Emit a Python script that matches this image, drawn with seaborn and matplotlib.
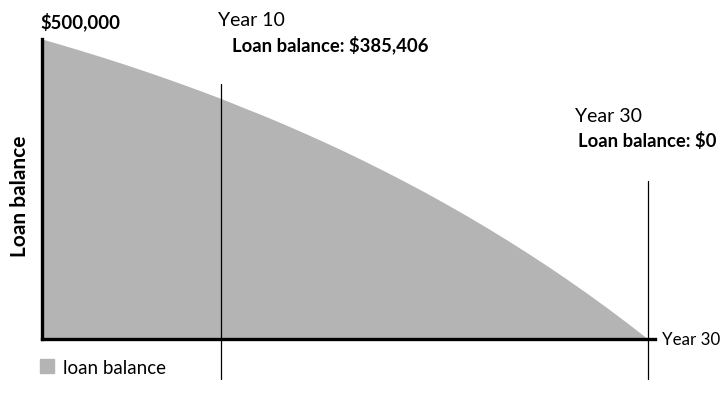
import matplotlib
matplotlib.use("Agg")
import matplotlib.pyplot as plt
from matplotlib.lines import Line2D
import seaborn as sns
import pandas as pd

# loan balance by year
years = list(range(31))
balance = [500000, 490200, 480100, 469700, 458900, 447700, 436100, 424100,
           411800, 399000, 385406, 372000, 357800, 343100, 328000, 312300,
           296000, 279200, 261800, 243900, 225200, 206000, 186100, 165500,
           144200, 122200, 99400, 75800, 51400, 26100, 0]

callout_years = [8.85, 30]
callout_labels = ["Year 10", "Year 30"]
callout_values = [385406, 0]

fill_color = "#b4b4b4"

if __name__ == '__main__':
    sns.set_style("white")
    plt.rcParams['font.family'] = ['Lato', 'DejaVu Sans']
    plt.rcParams['text.color'] = 'black'

    df = pd.DataFrame({'year': years, 'balance': balance})

    fig = plt.figure(figsize=(7.22, 4.02), dpi=100)
    W, H = 722, 402
    ax = fig.add_axes([42 / W, 1 - 340 / H, 613 / W, 300 / H])

    sns.lineplot(data=df, x='year', y='balance', ax=ax, color=fill_color, linewidth=0)
    ax.fill_between(df['year'], df['balance'], 0, color=fill_color, linewidth=0)

    ax.set_xlim(0, 30.35)
    ax.set_ylim(0, 500000)
    ax.set_xticks([])
    ax.set_yticks([])
    ax.set_xlabel('')
    ax.set_ylabel('')
    for s in ['top', 'right']:
        ax.spines[s].set_visible(False)
    for s in ['left', 'bottom']:
        ax.spines[s].set_color('black')
        ax.spines[s].set_linewidth(2.4)

    # callout lines
    tops = [85, 182]
    for yr, top in zip(callout_years, tops):
        ax.axvline(yr, ymin=-40 / 300, ymax=(340 - top) / 300, color='black',
                   linewidth=0.9, clip_on=False)

    def ftxt(x, y, s, **kw):
        fig.text(x / W, 1 - y / H, s, va='center', ha='left', color='black', **kw)

    ftxt(40, 22, f"${balance[0]:,}", fontsize=13.3, fontweight='bold')
    ftxt(218, 20, callout_labels[0], fontsize=14)
    ftxt(232, 45, f"Loan balance: ${callout_values[0]:,}", fontsize=13.3, fontweight='bold')
    ftxt(575, 116, callout_labels[1], fontsize=14)
    ftxt(578, 141, f"Loan balance: ${callout_values[1]:,}", fontsize=13.3, fontweight='bold')
    ftxt(662, 340, f"Year {years[-1]}", fontsize=12.2)
    fig.text(20 / W, 1 - 196 / H, "Loan balance", rotation=90, va='center', ha='center',
             fontsize=15, fontweight='bold', color='black')

    handle = Line2D([], [], marker='s', linestyle='none', markersize=10,
                    markerfacecolor=fill_color, markeredgecolor=fill_color)
    fig.legend([handle], ['loan balance'], loc='center left',
               bbox_to_anchor=(30 / W, 1 - 368 / H), frameon=False,
               fontsize=13.5, handletextpad=0.35, borderaxespad=0, handlelength=1.0)

    fig.savefig('out.png', dpi=100)
